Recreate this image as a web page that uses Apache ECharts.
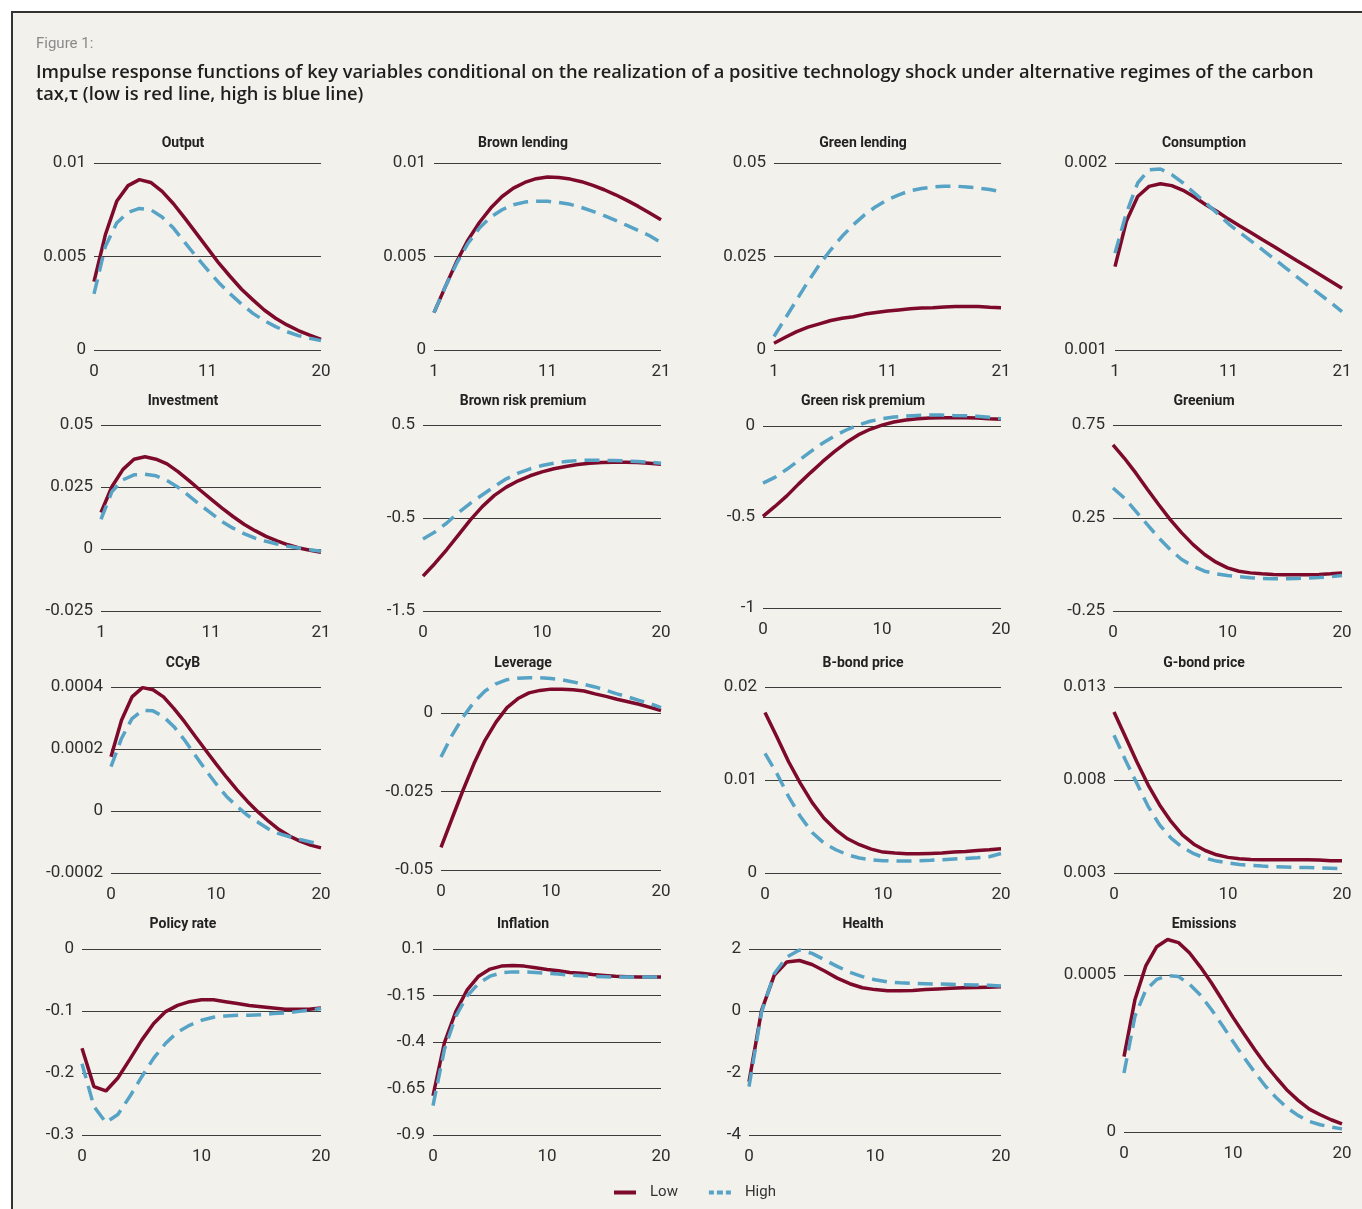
<!DOCTYPE html>
<html>
<head>
<meta charset="utf-8">
<script src="https://cdn.jsdelivr.net/npm/echarts@6/dist/echarts.min.js"></script>
<style>
html,body{margin:0;padding:0;background:#ffffff;}
#panel{position:absolute;left:11px;top:11px;width:1351px;height:1198px;background:#f2f1ec;border-top:2px solid #333;border-left:2px solid #333;box-sizing:border-box;}
#chart{position:absolute;left:0;top:0;width:1362px;height:1209px;}
</style>
</head>
<body>
<div id="panel"></div>
<div id="chart"></div>
<script>
// ---------- data ----------
const categories = ['0','1','2','3','4','5','6','7','8','9','10','11','12','13','14','15','16','17','18','19','20'];

const figureLabel = 'Figure 1:';
const figureTitleLine1 = 'Impulse response functions of key variables conditional on the realization of a positive technology shock under alternative regimes of the carbon';
const figureTitleLine2 = 'tax,τ (low is red line, high is blue line)';
const seriesNames = ['Low', 'High'];

const panelTitles = ['Output','Brown lending','Green lending','Consumption',
  'Investment','Brown risk premium','Green risk premium','Greenium',
  'CCyB','Leverage','B-bond price','G-bond price',
  'Policy rate','Inflation','Health','Emissions'];

const outputLow  = [0.00366,0.00616,0.00795,0.00879,0.00911,0.00896,0.00848,0.00782,0.00705,0.00625,0.00545,0.00464,0.00393,0.00325,0.00268,0.00214,0.0017,0.00134,0.00104,0.00079,0.00057];
const outputHigh = [0.003,0.00554,0.00679,0.00736,0.00757,0.0075,0.00711,0.00652,0.00575,0.005,0.00429,0.0036,0.003,0.00245,0.00196,0.00157,0.00125,0.00098,0.00077,0.00063,0.0005];

const brownLendLow  = [0.002,0.00339,0.00473,0.00589,0.00682,0.00759,0.00821,0.00866,0.00896,0.00916,0.00925,0.00923,0.00914,0.009,0.0088,0.00857,0.0083,0.008,0.00768,0.00732,0.00696];
const brownLendHigh = [0.002,0.0034,0.00464,0.00571,0.00652,0.00711,0.0075,0.00777,0.00791,0.00795,0.00795,0.00789,0.00779,0.00762,0.00741,0.00718,0.00693,0.00666,0.00639,0.00611,0.00575];

const greenLendLow  = [0.0018,0.0034,0.0049,0.0061,0.007,0.0079,0.0085,0.0089,0.0096,0.01,0.0104,0.0107,0.011,0.0112,0.0113,0.0115,0.0116,0.0116,0.0116,0.0114,0.0113];
const greenLendHigh = [0.0036,0.0085,0.0134,0.0183,0.0228,0.0268,0.0304,0.0335,0.0362,0.0384,0.0402,0.0415,0.0426,0.0432,0.0436,0.0438,0.0438,0.0436,0.0433,0.0429,0.0423];

const consLow  = [0.001446,0.001688,0.001821,0.001875,0.001889,0.001879,0.001854,0.001818,0.001777,0.001741,0.0017,0.001663,0.001627,0.001589,0.001554,0.001516,0.001479,0.001443,0.001405,0.001368,0.00133];
const consHigh = [0.001518,0.001732,0.001893,0.001964,0.001968,0.001938,0.001893,0.001839,0.001786,0.001732,0.001675,0.001628,0.001582,0.001536,0.001488,0.001441,0.001393,0.001346,0.0013,0.001254,0.001205];

const invLow  = [0.0147,0.0252,0.0321,0.0362,0.0372,0.0362,0.0343,0.0312,0.0276,0.0238,0.0201,0.0165,0.0131,0.01,0.0074,0.0051,0.0033,0.0017,0.0004,-0.0005,-0.0013];
const invHigh = [0.012,0.0232,0.0279,0.0299,0.0301,0.0295,0.0276,0.0249,0.0214,0.0178,0.0145,0.0111,0.0084,0.0062,0.0044,0.0031,0.002,0.0011,0.0004,-0.0003,-0.0009];

const brpLow  = [-1.125,-0.989,-0.839,-0.679,-0.518,-0.375,-0.257,-0.168,-0.1,-0.046,-0.004,0.029,0.054,0.075,0.089,0.096,0.1,0.1,0.096,0.089,0.079];
const brpHigh = [-0.725,-0.65,-0.554,-0.439,-0.339,-0.25,-0.161,-0.079,-0.018,0.029,0.064,0.089,0.107,0.118,0.121,0.121,0.118,0.114,0.107,0.1,0.089];

const grpLow  = [-0.497,-0.442,-0.384,-0.318,-0.256,-0.196,-0.141,-0.091,-0.049,-0.018,0.005,0.022,0.033,0.04,0.044,0.046,0.046,0.046,0.044,0.04,0.037];
const grpHigh = [-0.314,-0.282,-0.238,-0.19,-0.141,-0.095,-0.055,-0.022,0.005,0.026,0.04,0.049,0.055,0.058,0.06,0.06,0.058,0.057,0.053,0.048,0.04];

const greeniumLow  = [0.643,0.571,0.491,0.405,0.321,0.241,0.17,0.107,0.054,0.0125,-0.018,-0.036,-0.045,-0.05,-0.054,-0.055,-0.055,-0.055,-0.054,-0.05,-0.045];
const greeniumHigh = [0.411,0.357,0.286,0.214,0.143,0.08,0.027,-0.009,-0.036,-0.05,-0.059,-0.066,-0.071,-0.075,-0.077,-0.077,-0.075,-0.073,-0.07,-0.066,-0.059];

const ccybLow  = [0.000175,0.000293,0.000368,0.000398,0.000391,0.000368,0.00033,0.000288,0.000242,0.000197,0.000152,0.000109,0.000068,0.000031,-0.000003,-0.000033,-0.00006,-0.000081,-0.000097,-0.00011,-0.000119];
const ccybHigh = [0.000143,0.000234,0.000298,0.000325,0.000323,0.000304,0.000272,0.000229,0.000181,0.000133,0.000088,0.000047,0.000015,-0.000014,-0.000036,-0.000058,-0.000073,-0.000083,-0.000092,-0.0001,-0.000108];

const levLow  = [-0.0428,-0.0336,-0.0246,-0.0161,-0.0087,-0.0029,0.0017,0.0046,0.0064,0.0072,0.0076,0.0076,0.0074,0.007,0.0061,0.0053,0.0044,0.0036,0.0028,0.0018,0.0008];
const levHigh = [-0.014,-0.0071,-0.0013,0.0035,0.007,0.0093,0.0106,0.0111,0.0112,0.0112,0.011,0.0106,0.0099,0.0091,0.0083,0.0072,0.0061,0.0051,0.004,0.003,0.0017];

const bBondLow  = [0.01725,0.01464,0.01196,0.00964,0.00757,0.00589,0.00464,0.00368,0.00304,0.00257,0.00225,0.00214,0.00207,0.00207,0.00211,0.00214,0.00225,0.00232,0.00243,0.0025,0.00261];
const bBondHigh = [0.01286,0.01071,0.00821,0.00607,0.00436,0.00321,0.0025,0.00196,0.00161,0.00143,0.00132,0.00129,0.00129,0.00132,0.00136,0.00143,0.0015,0.00157,0.00164,0.00175,0.0021];

const gBondLow  = [0.01166,0.01032,0.00898,0.00773,0.00666,0.00577,0.00505,0.00455,0.00421,0.00398,0.00384,0.00377,0.00373,0.00371,0.00371,0.00371,0.00371,0.00371,0.0037,0.00366,0.00366];
const gBondHigh = [0.01041,0.00907,0.00782,0.00657,0.00559,0.00488,0.00438,0.00404,0.0038,0.00364,0.00354,0.00346,0.00341,0.00337,0.00334,0.00332,0.0033,0.00329,0.00327,0.00325,0.00323];

const policyLow  = [-0.16,-0.222,-0.229,-0.208,-0.178,-0.147,-0.12,-0.101,-0.091,-0.085,-0.082,-0.082,-0.085,-0.088,-0.091,-0.093,-0.095,-0.097,-0.097,-0.097,-0.095];
const policyHigh = [-0.185,-0.254,-0.28,-0.267,-0.238,-0.206,-0.176,-0.152,-0.134,-0.123,-0.115,-0.11,-0.108,-0.107,-0.107,-0.106,-0.104,-0.103,-0.101,-0.099,-0.096];

const inflLow  = [-0.689,-0.404,-0.236,-0.12,-0.046,-0.008,0.008,0.011,0.008,-0.001,-0.01,-0.017,-0.026,-0.031,-0.037,-0.042,-0.047,-0.049,-0.051,-0.051,-0.051];
const inflHigh = [-0.742,-0.44,-0.262,-0.152,-0.085,-0.046,-0.028,-0.023,-0.023,-0.026,-0.031,-0.035,-0.04,-0.044,-0.047,-0.049,-0.051,-0.051,-0.051,-0.051,-0.051];

const healthLow  = [-2.28,0.02,1.15,1.58,1.63,1.5,1.29,1.06,0.88,0.75,0.69,0.65,0.65,0.66,0.69,0.71,0.73,0.75,0.76,0.77,0.78];
const healthHigh = [-2.44,-0.03,1.2,1.74,1.97,1.86,1.65,1.44,1.25,1.11,1.01,0.94,0.91,0.89,0.88,0.87,0.86,0.85,0.84,0.83,0.81];

const emisLow  = [0.00024,0.000421,0.000529,0.00059,0.000613,0.000603,0.000571,0.000526,0.000476,0.000421,0.000365,0.000313,0.000262,0.000214,0.000172,0.000132,0.0001,0.000073,0.000055,0.000039,0.000026];
const emisHigh = [0.000188,0.000368,0.000452,0.000486,0.000498,0.000495,0.000471,0.000436,0.000391,0.000341,0.000288,0.000238,0.00019,0.000145,0.000108,0.000076,0.000052,0.000034,0.000023,0.000016,0.00001];

// y-axis tick values per panel
const yTicksOutput    = [0, 0.005, 0.01];
const yTicksBrownLend = [0, 0.005, 0.01];
const yTicksGreenLend = [0, 0.025, 0.05];
const yTicksCons      = [0.001, 0.002];
const yTicksInv       = [-0.025, 0, 0.025, 0.05];
const yTicksBrp       = [-1.5, -0.5, 0.5];
const yTicksGrp       = [-1, -0.5, 0];
const yTicksGreenium  = [-0.25, 0.25, 0.75];
const yTicksCcyb      = [-0.0002, 0, 0.0002, 0.0004];
const yTicksLev       = [-0.05, -0.025, 0];
const yTicksBBond     = [0, 0.01, 0.02];
const yTicksGBond     = [0.003, 0.008, 0.013];
const yTicksPolicy    = [-0.3, -0.2, -0.1, 0];
const yTicksInfl      = [-0.9, -0.65, -0.4, -0.15, 0.1];
const yTicksHealth    = [-4, -2, 0, 2];
const yTicksEmis      = [0, 0.0005];

// x-axis tick labels (shown at first, middle, last category)
const xTicks0_11_20 = ['0','11','20'];
const xTicks1_11_21 = ['1','11','21'];
const xTicks0_10_20 = ['0','10','20'];

// ---------- panel assembly ----------
const panels = [
  {low: outputLow, high: outputHigh, yTicks: yTicksOutput, xTicks: xTicks0_11_20},
  {low: brownLendLow, high: brownLendHigh, yTicks: yTicksBrownLend, xTicks: xTicks1_11_21},
  {low: greenLendLow, high: greenLendHigh, yTicks: yTicksGreenLend, xTicks: xTicks1_11_21},
  {low: consLow, high: consHigh, yTicks: yTicksCons, xTicks: xTicks1_11_21},
  {low: invLow, high: invHigh, yTicks: yTicksInv, xTicks: xTicks1_11_21},
  {low: brpLow, high: brpHigh, yTicks: yTicksBrp, xTicks: xTicks0_10_20},
  {low: grpLow, high: grpHigh, yTicks: yTicksGrp, xTicks: xTicks0_10_20},
  {low: greeniumLow, high: greeniumHigh, yTicks: yTicksGreenium, xTicks: xTicks0_10_20},
  {low: ccybLow, high: ccybHigh, yTicks: yTicksCcyb, xTicks: xTicks0_10_20},
  {low: levLow, high: levHigh, yTicks: yTicksLev, xTicks: xTicks0_10_20},
  {low: bBondLow, high: bBondHigh, yTicks: yTicksBBond, xTicks: xTicks0_10_20},
  {low: gBondLow, high: gBondHigh, yTicks: yTicksGBond, xTicks: xTicks0_10_20},
  {low: policyLow, high: policyHigh, yTicks: yTicksPolicy, xTicks: xTicks0_10_20},
  {low: inflLow, high: inflHigh, yTicks: yTicksInfl, xTicks: xTicks0_10_20},
  {low: healthLow, high: healthHigh, yTicks: yTicksHealth, xTicks: xTicks0_10_20},
  {low: emisLow, high: emisHigh, yTicks: yTicksEmis, xTicks: xTicks0_10_20}
];

// layout: [left, right, top, bottom] of each plot area in px
const plotBoxes = [
  [94,321,163,350],[434,661,163,350],[774,1001,163,350],[1115,1342,163,350],
  [101,321,425,611],[423,661,425,611],[763,1001,426,608],[1113,1342,425,611],
  [111,321,687,873],[441,661,713,870],[765,1001,687,873],[1114,1342,687,873],
  [82,321,949,1135],[433,661,949,1135],[749,1001,949,1135],[1124,1342,975,1132]
];
const titleCentersX = [183, 523, 863, 1204];
const titleCentersY = [143, 401, 663, 924];

const RED = '#7d0a2a';
const BLUE = '#56a3c6';
const FONT = 'Roboto, "Liberation Sans", "DejaVu Sans", sans-serif';
const HEAD_FONT = '"Open Sans", Roboto, sans-serif';
const GRID_COLOR = '#3c3c3c';

// fit the header's first line to the width it spans in the original figure
const headerWidth = 1278;
const measureCtx = document.createElement('canvas').getContext('2d');
measureCtx.font = '600 100px ' + HEAD_FONT;
let headSize = 100 * headerWidth / measureCtx.measureText(figureTitleLine1).width;
headSize = Math.max(15, Math.min(19, headSize));

const grids = [], xAxes = [], yAxes = [], series = [], graphics = [];

panels.forEach((p, i) => {
  const b = plotBoxes[i];
  grids.push({left: b[0], top: b[2], width: b[1] - b[0], height: b[3] - b[2], containLabel: false, outerBoundsMode: 'none'});
  xAxes.push({
    type: 'category', gridIndex: i, data: categories, boundaryGap: false,
    axisLine: {show: false}, axisTick: {show: false}, splitLine: {show: false},
    axisLabel: {
      interval: 9, margin: 13, color: '#2e2e2e', fontSize: 17, fontFamily: FONT,
      formatter: (v, idx) => idx === 0 ? p.xTicks[0] : (idx === 10 ? p.xTicks[1] : p.xTicks[2])
    }
  });
  yAxes.push({
    type: 'value', gridIndex: i,
    min: p.yTicks[0], max: p.yTicks[p.yTicks.length - 1],
    axisLine: {show: false},
    axisTick: {show: false, customValues: p.yTicks},
    axisLabel: {customValues: p.yTicks, margin: 8, color: '#2e2e2e', fontSize: 17, fontFamily: FONT,
      formatter: v => String(v)},
    splitLine: {show: true, lineStyle: {color: GRID_COLOR, width: 1}}
  });
  series.push({
    name: seriesNames[0], type: 'line', xAxisIndex: i, yAxisIndex: i, data: p.low,
    symbol: 'none', clip: false, silent: true,
    lineStyle: {color: RED, width: 3.5}, itemStyle: {color: RED}
  });
  series.push({
    name: seriesNames[1], type: 'line', xAxisIndex: i, yAxisIndex: i, data: p.high,
    symbol: 'none', clip: false, silent: true,
    lineStyle: {color: BLUE, width: 3.5, type: [15, 8]}, itemStyle: {color: BLUE}
  });
  graphics.push({
    type: 'text', x: titleCentersX[i % 4], y: titleCentersY[Math.floor(i / 4)],
    style: {text: panelTitles[i], fill: '#222', font: 'bold 14px ' + FONT, align: 'center', verticalAlign: 'middle', textAlign: 'center', textVerticalAlign: 'middle'}
  });
});

graphics.push({
  type: 'text', x: 36, y: 44,
  style: {text: figureLabel, fill: '#8a8a8a', font: '15px ' + FONT, align: 'left', verticalAlign: 'middle'}
});
graphics.push({
  type: 'text', x: 36, y: 73,
  style: {text: figureTitleLine1, fill: '#1e1e1e', font: '600 ' + headSize.toFixed(2) + 'px ' + HEAD_FONT, align: 'left', verticalAlign: 'middle'}
});
graphics.push({
  type: 'text', x: 36, y: 95,
  style: {text: figureTitleLine2, fill: '#1e1e1e', font: '600 ' + headSize.toFixed(2) + 'px ' + HEAD_FONT, align: 'left', verticalAlign: 'middle'}
});

const chart = echarts.init(document.getElementById('chart'), null, {renderer: 'canvas'});
chart.setOption({
  backgroundColor: 'transparent',
  animation: false,
  grid: grids, xAxis: xAxes, yAxis: yAxes, series: series,
  graphic: graphics,
  legend: {
    left: 609, top: 1180, itemWidth: 22, itemHeight: 4, itemGap: 31,
    itemStyle: {borderWidth: 0},
    data: [
      {name: seriesNames[0], icon: 'rect'},
      {name: seriesNames[1], icon: 'path://M0,0h5v4h-5zM8,0h6v4h-6zM17,0h5v4h-5z'}
    ],
    textStyle: {fontSize: 15, color: '#333', fontFamily: FONT, padding: [0, 0, 0, 9]}
  }
});
</script>
</body>
</html>
